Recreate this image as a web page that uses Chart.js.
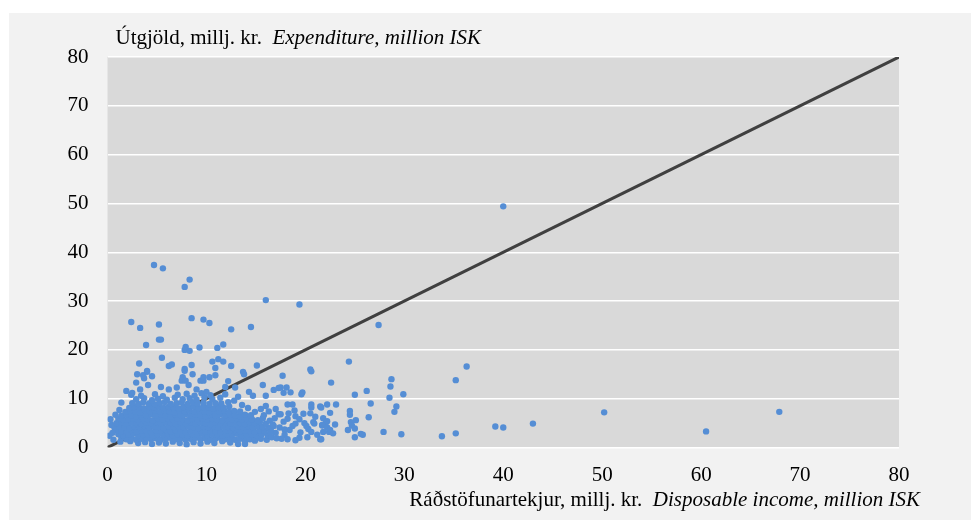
<!DOCTYPE html>
<html>
<head>
<meta charset="utf-8">
<script src="https://cdn.jsdelivr.net/npm/chart.js@4.4.1/dist/chart.umd.min.js"></script>
<style>
  html, body { margin: 0; padding: 0; background: #ffffff; }
  #panel { position: absolute; left: 9px; top: 13px; width: 962px; height: 507px; background: #f2f2f2; }
  #panel canvas { display: block; }
</style>
</head>
<body>
<div id="panel"><canvas id="c" width="962" height="507"></canvas></div>
<script>
// ---- Data (million ISK) ----
const axisTicks = [0, 10, 20, 30, 40, 50, 60, 70, 80];
const yTitleRegular = 'Útgjöld, millj. kr.  ';
const yTitleItalic = 'Expenditure, million ISK';
const xTitleRegular = 'Ráðstöfunartekjur, millj. kr.  ';
const xTitleItalic = 'Disposable income, million ISK';

// 45-degree reference line: income = expenditure
const equalityLine = [[0, 0], [80, 80]];

// Households: [disposable income, expenditure], dense core of the cloud
const coreHouseholds = [
  [2.3,1.3],[3.1,0.9],[3.8,1.1],[4.5,0.7],[5.2,1.0],[5.9,0.8],[6.6,1.2],[7.3,0.9],[8.0,0.6],[8.7,1.1],[9.4,0.8],[10.1,1.2],[10.8,0.9],[11.6,1.3],[12.4,1.0],[13.2,0.7],[13.9,1.2],[14.9,1.4],[16.1,1.6],
  [1.4,2.0],[1.9,1.7],[2.4,1.9],[2.9,1.6],[3.4,1.8],[3.9,2.0],[4.4,1.7],[4.9,1.9],[5.4,1.6],[5.9,1.8],[6.4,2.0],[6.9,1.7],[7.4,1.9],[7.9,1.6],[8.4,1.8],[8.9,2.0],[9.4,1.7],[9.9,1.9],[10.4,1.6],[10.9,1.8],[11.4,2.0],[11.9,1.7],[12.4,1.9],[12.9,1.6],[13.4,1.8],[13.9,2.0],[14.4,1.7],[14.9,1.9],[15.5,1.8],
  [1.1,2.7],[1.6,2.5],[2.1,2.6],[2.6,2.8],[3.1,2.5],[3.6,2.7],[4.1,2.6],[4.6,2.4],[5.1,2.7],[5.6,2.6],[6.1,2.8],[6.6,2.5],[7.1,2.7],[7.6,2.6],[8.1,2.4],[8.6,2.7],[9.1,2.6],[9.6,2.8],[10.1,2.5],[10.6,2.7],[11.1,2.6],[11.6,2.4],[12.1,2.7],[12.6,2.6],[13.1,2.8],[13.6,2.5],[14.1,2.7],[14.6,2.6],[15.1,2.4],[15.6,2.7],[16.2,2.5],
  [0.9,3.5],[1.4,3.3],[1.9,3.4],[2.4,3.6],[2.9,3.3],[3.4,3.5],[3.9,3.4],[4.4,3.2],[4.9,3.5],[5.4,3.4],[5.9,3.6],[6.4,3.3],[6.9,3.5],[7.4,3.4],[7.9,3.2],[8.4,3.5],[8.9,3.4],[9.4,3.6],[9.9,3.3],[10.4,3.5],[10.9,3.4],[11.4,3.2],[11.9,3.5],[12.4,3.4],[12.9,3.6],[13.4,3.3],[13.9,3.5],[14.4,3.4],[14.9,3.2],[15.4,3.5],[15.9,3.4],[16.5,3.6],
  [0.7,4.1],[1.2,4.3],[1.7,4.2],[2.2,4.0],[2.7,4.3],[3.2,4.2],[3.7,4.4],[4.2,4.1],[4.7,4.3],[5.2,4.2],[5.7,4.0],[6.2,4.3],[6.7,4.2],[7.2,4.4],[7.7,4.1],[8.2,4.3],[8.7,4.2],[9.2,4.0],[9.7,4.3],[10.2,4.2],[10.7,4.4],[11.2,4.1],[11.7,4.3],[12.2,4.2],[12.7,4.0],[13.2,4.3],[13.7,4.2],[14.2,4.4],[14.7,4.1],[15.2,4.3],[15.7,4.2],[16.3,4.0],[16.8,4.4],
  [0.9,5.0],[1.4,5.2],[1.9,4.9],[2.4,5.1],[2.9,5.0],[3.4,4.8],[3.9,5.1],[4.4,5.0],[4.9,5.2],[5.4,4.9],[5.9,5.1],[6.4,5.0],[6.9,4.8],[7.4,5.1],[7.9,5.0],[8.4,5.2],[8.9,4.9],[9.4,5.1],[9.9,5.0],[10.4,4.8],[10.9,5.1],[11.4,5.0],[11.9,5.2],[12.4,4.9],[12.9,5.1],[13.4,5.0],[13.9,4.8],[14.4,5.1],[14.9,5.0],[15.4,5.2],[16.0,4.9],
  [1.1,5.9],[1.6,5.7],[2.1,5.8],[2.6,6.0],[3.1,5.7],[3.6,5.9],[4.1,5.8],[4.6,5.6],[5.1,5.9],[5.6,5.8],[6.1,6.0],[6.6,5.7],[7.1,5.9],[7.6,5.8],[8.1,5.6],[8.6,5.9],[9.1,5.8],[9.6,6.0],[10.1,5.7],[10.6,5.9],[11.1,5.8],[11.6,5.6],[12.1,5.9],[12.6,5.8],[13.1,6.0],[13.6,5.7],[14.1,5.9],[14.6,5.8],[15.2,5.6],[15.7,6.0],
  [1.4,6.5],[1.9,6.7],[2.4,6.6],[2.9,6.4],[3.4,6.7],[3.9,6.6],[4.4,6.8],[4.9,6.5],[5.4,6.7],[5.9,6.6],[6.4,6.4],[6.9,6.7],[7.4,6.6],[7.9,6.8],[8.4,6.5],[8.9,6.7],[9.4,6.6],[9.9,6.4],[10.4,6.7],[10.9,6.6],[11.4,6.8],[11.9,6.5],[12.4,6.7],[12.9,6.6],[13.4,6.4],[13.9,6.7],[14.5,6.6],
  [1.8,7.3],[2.3,7.5],[2.8,7.4],[3.3,7.2],[3.8,7.5],[4.3,7.4],[4.8,7.6],[5.3,7.3],[5.8,7.5],[6.3,7.4],[6.8,7.2],[7.3,7.5],[7.8,7.4],[8.3,7.6],[8.8,7.3],[9.3,7.5],[9.8,7.4],[10.3,7.2],[10.8,7.5],[11.3,7.4],[11.8,7.6],[12.3,7.3],[12.8,7.5],[13.4,7.4],
  [2.2,8.1],[2.7,8.3],[3.2,8.2],[3.7,8.0],[4.2,8.3],[4.7,8.2],[5.2,8.4],[5.7,8.1],[6.2,8.3],[6.7,8.2],[7.2,8.0],[7.7,8.3],[8.2,8.2],[8.7,8.4],[9.2,8.1],[9.7,8.3],[10.2,8.2],[10.7,8.0],[11.2,8.3],[11.7,8.2],[12.3,8.4],
  [2.5,9.1],[3.1,8.9],[3.6,9.2],[4.2,9.0],[4.8,8.8],[5.3,9.1],[5.8,9.3],[6.4,8.9],[7.0,9.1],[7.5,9.2],[8.1,8.9],[8.6,9.3],[9.1,9.0],[9.7,9.2],[10.3,8.9],[10.9,9.1],[11.5,9.0],[12.2,9.3],
  [2.9,9.9],[3.7,10.1],[4.5,9.7],[5.1,10.0],[6.0,9.8],[6.8,10.2],[7.6,9.9],[8.3,10.1],[9.0,9.8],[9.8,10.3],[10.6,9.9],[11.4,10.2],[12.8,9.6],
  [2.4,10.8],[3.4,10.6],[4.8,10.9],[5.6,10.5],[7.1,10.8],[8.0,11.0],[8.8,10.6],[9.5,11.1],[10.4,10.7],[11.9,10.9],[13.2,10.4],
  [0.2,2.4],[0.3,5.8],[0.5,3.0],[0.8,6.7],[1.2,7.7],[1.4,9.2],[0.6,1.6],[1.3,1.2],[0.4,4.6]
];

// Households in the right-hand tail of the cloud
const tailHouseholds = [
  [16.6,2.1],[17.0,3.0],[17.4,4.1],[17.8,5.3],[16.9,6.0],[16.4,5.5],[17.3,6.8],[17.9,2.6],[18.4,3.6],[18.7,4.4],[18.2,5.9],[19.0,6.4],[19.5,3.1],[19.9,5.0],[20.3,3.8],[21.0,6.3],[21.2,2.6],[15.8,6.6],[16.3,7.4],[15.5,7.9],[14.9,7.3],[14.2,8.1],[13.6,8.7],[16.0,8.5],[17.0,7.9],[18.9,7.6],[19.8,6.9],[20.9,4.9],[16.7,4.7],[17.6,1.8],
  [18.7,8.8],[18.2,8.8],[17.5,6.8],[20.6,8.8],[21.5,8.4],[22.2,8.8],[20.5,7.0],[18.3,7.0],[19.4,5.8],[19.0,4.9],[20.1,4.4],[20.8,5.2],[21.7,4.5],[17.9,3.7],[18.2,1.7],[19.0,1.5],[19.4,2.0],[20.2,2.1],[21.5,1.7],[13.9,0.7],[17.1,1.9],[16.5,3.2],[22.4,3.2],[22.1,5.2],[20.6,3.2],[20.6,8.2],
  [21.8,6.0],[22.2,5.4],[23.0,4.7],[21.7,4.6],[22.2,4.1],[21.8,3.2],[22.5,3.6],[22.8,2.9],[21.6,1.7],
  [23.1,8.8],[21.6,8.2],[22.5,7.1],[24.5,7.5],[24.5,6.7],[26.4,6.2],[25.1,5.6],[24.6,5.2],[24.7,4.5],[25.0,3.9],[24.3,3.6],[25.6,2.8],[25.8,2.6],[25.0,2.1],[27.9,3.2],[29.7,2.7],[26.6,9.0],[29.2,8.4],[29.0,7.3]
];

// Scattered households above the cloud and far outliers
const scatteredHouseholds = [
  [40.0,49.4],[4.7,37.4],[5.6,36.7],[8.3,34.4],[7.8,32.9],[16.0,30.2],[19.4,29.3],
  [2.4,25.7],[3.3,24.5],[5.2,25.2],[8.5,26.5],[9.7,26.2],[10.3,25.5],[12.5,24.2],[14.5,24.7],[27.4,25.1],
  [5.2,22.1],[5.4,22.1],[3.9,21.0],[7.9,20.6],[7.8,20.0],[8.3,19.8],[9.3,20.5],[11.1,20.4],[11.7,21.1],
  [3.2,17.2],[5.5,18.4],[6.2,16.7],[6.5,17.0],[8.5,16.9],[10.6,17.6],[11.2,18.1],[11.7,17.6],[12.5,16.7],[10.9,16.3],[15.1,16.8],[7.8,16.1],[4.0,15.7],
  [24.4,17.6],[20.5,16.0],[36.3,16.6],[35.2,13.8],
  [22.6,13.3],[28.7,14.0],[28.6,12.5],[26.2,11.6],[25.0,10.8],[29.9,10.9],[28.5,10.2],
  [33.8,2.3],[35.2,2.9],[39.2,4.3],[40.0,4.1],[43.0,4.9],[50.2,7.2],[60.5,3.3],[67.9,7.3],
  [4.0,15.5],[4.5,14.6],[3.0,15.0],[3.7,14.2],[2.9,13.3],[4.1,12.8],[7.6,14.4],[7.8,15.7],[8.6,15.0],[7.5,13.7],[7.9,13.7],[9.4,13.7],[9.7,13.7],[10.3,14.4],[10.9,14.8],[5.4,12.4],[6.2,11.9],[7.0,12.3],[8.2,12.8],[9.0,11.9],[1.9,11.6],[2.5,11.2],[3.3,11.9],[10.0,11.4],
  [13.7,15.5],[13.8,15.0],[17.7,14.7],[20.6,15.6],[15.7,12.8],[17.5,12.3],[18.1,12.3],[16.8,11.8],[18.5,11.3],[19.7,11.3],[19.6,10.9],[14.3,11.4],[14.7,10.6],[16.0,10.6],
  [12.2,13.6],[12.9,12.3],[11.9,12.4],[9.7,14.4],[17.8,11.2],[17.3,12.2],[3.6,14.8]
];

const toXY = arr => arr.map(p => ({ x: p[0], y: p[1] }));
const allHouseholds = [...coreHouseholds, ...tailHouseholds, ...scatteredHouseholds];

const FONT = "'Liberation Serif', 'Times New Roman', serif";
const FONT_SIZE = 21;

const bgPlugin = {
  id: 'plotBg',
  beforeDraw(chart) {
    const { ctx, chartArea: a } = chart;
    ctx.save();
    ctx.fillStyle = '#d9d9d9';
    ctx.fillRect(a.left, a.top, a.right - a.left, a.bottom - a.top);
    ctx.restore();
  }
};

function drawMixed(ctx, x, y, regular, italic, align) {
  ctx.font = `${FONT_SIZE}px ${FONT}`;
  const w1 = ctx.measureText(regular).width;
  ctx.font = `italic ${FONT_SIZE}px ${FONT}`;
  const w2 = ctx.measureText(italic).width;
  let startX = align === 'right' ? x - (w1 + w2) : x;
  ctx.textAlign = 'left';
  ctx.textBaseline = 'middle';
  ctx.fillStyle = '#000000';
  ctx.font = `${FONT_SIZE}px ${FONT}`;
  ctx.fillText(regular, startX, y);
  ctx.font = `italic ${FONT_SIZE}px ${FONT}`;
  ctx.fillText(italic, startX + w1, y);
}

const titlesPlugin = {
  id: 'axisTitles',
  afterDraw(chart) {
    const { ctx, chartArea: a } = chart;
    ctx.save();
    drawMixed(ctx, a.left + 8, a.top - 19, yTitleRegular, yTitleItalic, 'left');
    drawMixed(ctx, a.right + 21, a.bottom + 53, xTitleRegular, xTitleItalic, 'right');
    ctx.restore();
  }
};

new Chart(document.getElementById('c'), {
  data: {
    datasets: [
      {
        type: 'scatter',
        label: 'Households',
        data: toXY(allHouseholds),
        backgroundColor: '#558ed5',
        borderWidth: 0,
        pointRadius: 3.2,
        order: 1
      },
      {
        type: 'line',
        label: 'Equality',
        data: toXY(equalityLine),
        borderColor: '#404040',
        borderWidth: 3,
        pointRadius: 0,
        fill: false,
        order: 2
      }
    ]
  },
  plugins: [bgPlugin, titlesPlugin],
  options: {
    responsive: false,
    animation: false,
    events: [],
    layout: { padding: { top: 44, right: 72, left: 0, bottom: 0 } },
    plugins: { legend: { display: false }, tooltip: { enabled: false }, title: { display: false } },
    scales: {
      x: {
        type: 'linear',
        min: 0, max: 80,
        afterBuildTicks: s => { s.ticks = axisTicks.map(v => ({ value: v })); },
        afterFit: s => { s.height = 72.5; },
        grid: { display: false, drawTicks: false },
        border: { display: false },
        ticks: { color: '#000', padding: 15, maxRotation: 0, font: { family: FONT, size: FONT_SIZE } }
      },
      y: {
        type: 'linear',
        min: 0, max: 80,
        afterBuildTicks: s => { s.ticks = axisTicks.map(v => ({ value: v })); },
        afterFit: s => { s.width = 98.5; },
        grid: { color: '#ffffff', lineWidth: 1.5, drawTicks: false },
        border: { display: false },
        ticks: { color: '#000', padding: 19, font: { family: FONT, size: FONT_SIZE } }
      }
    }
  }
});
</script>
</body>
</html>
